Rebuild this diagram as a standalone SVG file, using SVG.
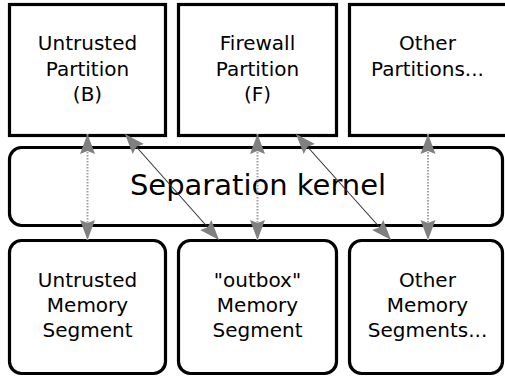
<svg xmlns="http://www.w3.org/2000/svg" width="505" height="376" viewBox="0 0 505 376">
<defs>
<marker id="ah" markerUnits="userSpaceOnUse" markerWidth="24" markerHeight="18" refX="20" refY="7.5" orient="auto-start-reverse" viewBox="0 0 24 15">
<path d="M20,7.5 L0,0 L3,7.5 L0,15 Z" fill="#808080"/>
</marker>
<style>
.box{fill:#fff;stroke:#000;stroke-width:3.2}
.t{font-family:"DejaVu Sans",sans-serif;font-size:20px;text-anchor:middle;fill:#000}
.k{font-family:"DejaVu Sans",sans-serif;font-size:29px;text-anchor:middle;fill:#000}
.dot{stroke:#a0a0a0;stroke-width:2;stroke-dasharray:1.5,1.5;fill:none}
.sol{stroke:#333;stroke-width:1.1;fill:none}
</style>
</defs>
<g id="untrusted-partition">
<rect class="box" x="9.5" y="4.5" width="156" height="131"/>
<text class="t" x="87.5" y="50">Untrusted</text>
<text class="t" x="87.5" y="76">Partition</text>
<text class="t" x="87.5" y="101">(B)</text>
</g>
<g id="firewall-partition">
<rect class="box" x="178.5" y="4.5" width="158" height="131"/>
<text class="t" x="257.5" y="50">Firewall</text>
<text class="t" x="257.5" y="76">Partition</text>
<text class="t" x="257.5" y="101">(F)</text>
</g>
<g id="other-partitions">
<rect class="box" x="349.5" y="4.5" width="158" height="131"/>
<text class="t" x="427.5" y="50">Other</text>
<text class="t" x="427.5" y="76">Partitions...</text>
</g>
<g id="separation-kernel">
<rect class="box" x="9.5" y="147.5" width="493" height="78" rx="12"/>
<text class="k" x="258" y="195">Separation kernel</text>
</g>
<g id="untrusted-memory">
<rect class="box" x="9.5" y="240.5" width="156" height="133" rx="12"/>
<text class="t" x="87.5" y="287">Untrusted</text>
<text class="t" x="87.5" y="312">Memory</text>
<text class="t" x="87.5" y="337">Segment</text>
</g>
<g id="outbox-memory">
<rect class="box" x="178.5" y="240.5" width="158" height="133" rx="12"/>
<text class="t" x="257.5" y="287">"outbox"</text>
<text class="t" x="257.5" y="312">Memory</text>
<text class="t" x="257.5" y="337">Segment</text>
</g>
<g id="other-memory">
<rect class="box" x="349.5" y="240.5" width="153" height="133" rx="12"/>
<text class="t" x="427.5" y="287">Other</text>
<text class="t" x="427.5" y="312">Memory</text>
<text class="t" x="427.5" y="337">Segments...</text>
</g>
<g id="connectors">
<line class="dot" x1="87.5" y1="134" x2="87.5" y2="240" marker-start="url(#ah)" marker-end="url(#ah)"/>
<line class="dot" x1="257.5" y1="134" x2="257.5" y2="240" marker-start="url(#ah)" marker-end="url(#ah)"/>
<line class="dot" x1="428" y1="134" x2="428" y2="240" marker-start="url(#ah)" marker-end="url(#ah)"/>
<line class="sol" x1="125" y1="134" x2="219" y2="240" marker-start="url(#ah)" marker-end="url(#ah)"/>
<line class="sol" x1="296" y1="134" x2="391" y2="240" marker-start="url(#ah)" marker-end="url(#ah)"/>
</g>
</svg>
